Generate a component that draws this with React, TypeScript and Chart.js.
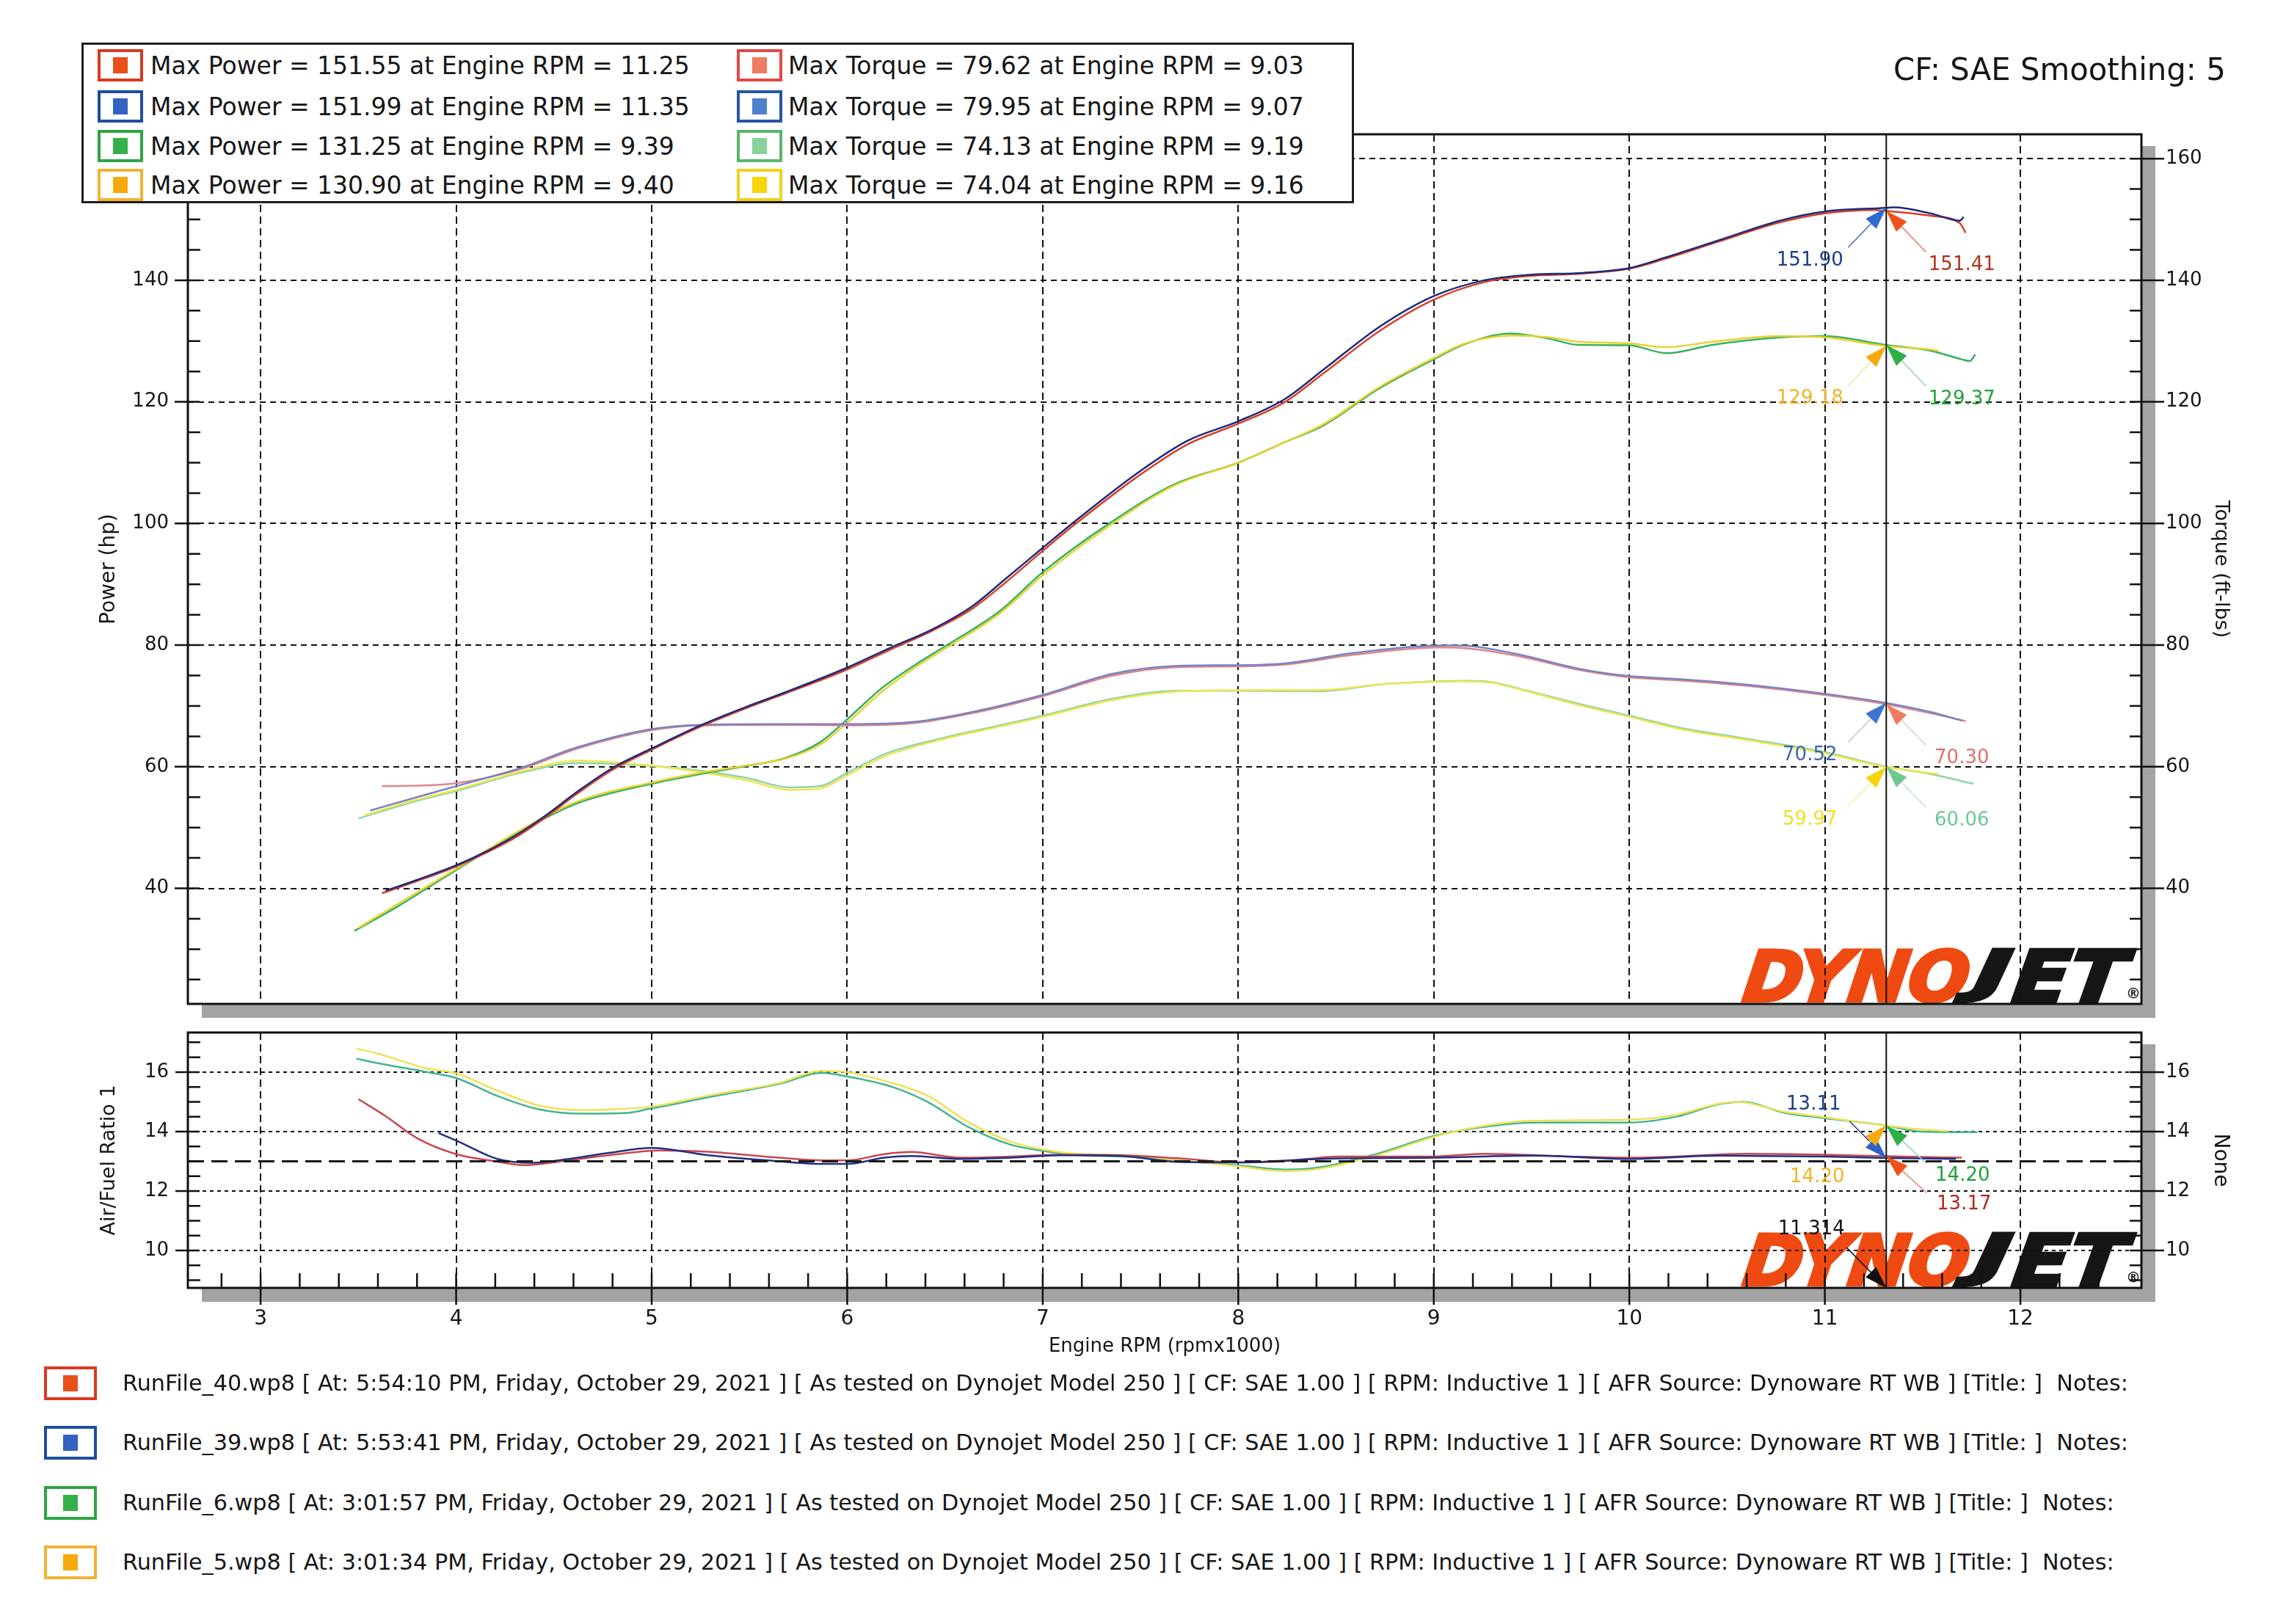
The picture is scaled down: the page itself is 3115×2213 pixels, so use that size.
import { useEffect, useRef } from "react";
import { Chart, registerables } from "chart.js";
Chart.register(...registerables);

// ---------------- data ----------------
const rpmTicks = [3, 4, 5, 6, 7, 8, 9, 10, 11, 12];
const rpmMinorTicks = [2.8, 3.0, 3.2, 3.4, 3.6, 3.8, 4.0, 4.2, 4.4, 4.6, 4.8, 5.0, 5.2, 5.4, 5.6, 5.8, 6.0, 6.2, 6.4, 6.6, 6.8, 7.0, 7.2, 7.4, 7.6, 7.8, 8.0, 8.2, 8.4, 8.6, 8.8, 9.0, 9.2, 9.4, 9.6, 9.8, 10.0, 10.2, 10.4, 10.6, 10.8, 11.0, 11.2, 11.4, 11.6, 11.8, 12.0, 12.2, 12.4];
const powerTicks = [40, 60, 80, 100, 120, 140, 160];
const powerMinorTicks = [25, 30, 35, 45, 50, 55, 65, 70, 75, 85, 90, 95, 105, 110, 115, 125, 130, 135, 145, 150, 155];
const afrTicks = [10, 12, 14, 16];
const afrMinorTicks = [9, 9.5, 10.5, 11, 11.5, 12.5, 13, 13.5, 14.5, 15, 15.5, 16.5, 17];

const RPM_MIN = 2.628;
const RPM_MAX = 12.619;
const POWER_MIN = 21.0;
const POWER_MAX = 164.0;
const AFR_MIN = 8.74;
const AFR_MAX = 17.33;
const CURSOR_RPM = 11.314;
const AFR_TARGET = 13.0;

const rpmPower40 = [3.62, 3.8, 4.0, 4.15, 4.3, 4.45, 4.62, 4.8, 5.0, 5.25, 5.48, 5.68, 6.0, 6.23, 6.43, 6.64, 6.81, 7.0, 7.17, 7.48, 7.74, 8.0, 8.24, 8.44, 8.72, 9.0, 9.26, 9.49, 9.76, 10.0, 10.19, 10.46, 10.77, 11.0, 11.25, 11.31, 11.54, 11.69, 11.72];
const power40 = [39.2, 41.2, 43.6, 45.8, 48.3, 51.5, 55.6, 59.5, 62.8, 66.6, 69.6, 72.0, 76.0, 79.4, 82.3, 86.0, 90.3, 95.5, 100.0, 107.6, 113.0, 116.4, 120.0, 124.8, 131.6, 136.8, 139.7, 140.7, 141.1, 141.9, 143.6, 146.4, 149.5, 151.0, 151.55, 151.41, 150.6, 149.4, 147.8];

const rpmPower39 = [3.64, 3.8, 4.0, 4.15, 4.3, 4.45, 4.62, 4.8, 5.0, 5.25, 5.48, 5.68, 6.0, 6.23, 6.43, 6.64, 6.81, 7.0, 7.17, 7.48, 7.74, 8.0, 8.24, 8.44, 8.72, 9.0, 9.26, 9.49, 9.76, 10.0, 10.19, 10.46, 10.77, 11.0, 11.31, 11.35, 11.54, 11.69, 11.71];
const power39 = [39.6, 41.4, 43.8, 46.0, 48.6, 51.8, 55.9, 59.8, 63.0, 66.8, 69.8, 72.2, 76.3, 79.7, 82.5, 86.4, 90.9, 96.0, 100.5, 108.2, 113.6, 116.8, 120.5, 125.4, 132.3, 137.4, 140.0, 140.9, 141.2, 142.0, 143.8, 146.6, 149.8, 151.3, 151.9, 151.99, 151.0, 149.8, 150.4];

const rpmPower6 = [3.48, 3.7, 4.0, 4.33, 4.62, 5.0, 5.25, 5.48, 5.68, 5.86, 6.0, 6.18, 6.35, 6.5, 6.78, 7.0, 7.34, 7.67, 8.0, 8.24, 8.44, 8.72, 9.0, 9.16, 9.39, 9.59, 9.73, 10.0, 10.19, 10.43, 10.77, 11.0, 11.31, 11.54, 11.7, 11.74, 11.77];
const power6 = [33.0, 37.0, 43.0, 49.4, 54.0, 57.2, 58.8, 60.1, 61.4, 64.0, 67.8, 73.0, 76.8, 79.8, 85.6, 92.0, 100.0, 106.4, 110.0, 113.4, 116.2, 122.2, 127.0, 129.5, 131.25, 130.4, 129.4, 129.3, 128.0, 129.4, 130.6, 130.8, 129.37, 128.4, 127.0, 126.7, 127.8];

const rpmPower5 = [3.5, 3.7, 4.0, 4.33, 4.62, 5.0, 5.25, 5.48, 5.68, 5.86, 6.0, 6.18, 6.35, 6.5, 6.78, 7.0, 7.34, 7.67, 8.0, 8.24, 8.44, 8.72, 9.0, 9.16, 9.4, 9.59, 9.73, 10.0, 10.19, 10.43, 10.77, 11.0, 11.31, 11.54, 11.58];
const power5 = [33.5, 37.4, 43.2, 49.6, 54.3, 57.4, 59.0, 60.2, 61.3, 63.6, 67.2, 72.4, 76.4, 79.4, 85.2, 91.5, 99.6, 106.2, 110.0, 113.4, 116.4, 122.4, 127.2, 129.6, 130.9, 130.6, 129.9, 129.6, 129.0, 129.9, 130.8, 130.6, 129.18, 128.6, 128.4];

const rpmTorque40 = [3.62, 3.8, 4.0, 4.33, 4.62, 5.0, 5.25, 5.62, 6.0, 6.35, 6.64, 7.0, 7.36, 7.7, 8.0, 8.24, 8.59, 9.03, 9.16, 9.43, 9.76, 10.0, 10.26, 10.6, 11.0, 11.31, 11.54, 11.72];
const torque40 = [56.8, 56.9, 57.3, 59.6, 63.0, 66.0, 66.8, 66.9, 66.8, 67.2, 68.8, 71.6, 75.0, 76.4, 76.5, 76.8, 78.4, 79.62, 79.5, 78.2, 75.8, 74.7, 74.2, 73.3, 71.8, 70.3, 68.8, 67.5];

const rpmTorque39 = [3.56, 3.8, 4.0, 4.33, 4.62, 5.0, 5.25, 5.62, 6.0, 6.35, 6.64, 7.0, 7.36, 7.7, 8.0, 8.24, 8.59, 9.07, 9.2, 9.43, 9.76, 10.0, 10.26, 10.6, 11.0, 11.31, 11.54, 11.7];
const torque39 = [52.8, 55.0, 56.8, 59.8, 63.2, 66.2, 66.9, 67.0, 67.0, 67.4, 69.0, 71.8, 75.3, 76.6, 76.7, 77.0, 78.7, 79.95, 79.8, 78.5, 76.0, 74.9, 74.4, 73.5, 72.0, 70.52, 69.0, 67.6];

const rpmTorque6 = [3.5, 3.8, 4.0, 4.33, 4.62, 4.85, 5.19, 5.48, 5.71, 5.86, 6.0, 6.2, 6.5, 6.78, 7.0, 7.36, 7.7, 8.0, 8.41, 8.75, 9.19, 9.3, 9.43, 9.76, 10.0, 10.26, 10.6, 11.0, 11.31, 11.54, 11.76];
const torque6 = [51.5, 54.4, 56.0, 59.0, 60.6, 60.4, 59.6, 58.2, 56.6, 56.8, 59.0, 62.2, 64.8, 66.8, 68.4, 71.2, 72.5, 72.5, 72.4, 73.6, 74.13, 73.9, 72.9, 70.2, 68.4, 66.4, 64.6, 62.4, 60.06, 58.8, 57.2];

const rpmTorque5 = [3.53, 3.8, 4.0, 4.33, 4.62, 4.85, 5.19, 5.48, 5.71, 5.86, 6.0, 6.2, 6.5, 6.78, 7.0, 7.36, 7.7, 8.0, 8.41, 8.75, 9.16, 9.3, 9.43, 9.76, 10.0, 10.26, 10.6, 11.0, 11.31, 11.58];
const torque5 = [52.0, 54.6, 56.2, 59.2, 61.0, 60.6, 59.4, 57.8, 56.2, 56.4, 58.6, 61.8, 64.6, 66.6, 68.2, 71.0, 72.4, 72.6, 72.6, 73.6, 74.04, 73.8, 72.8, 70.0, 68.2, 66.2, 64.4, 62.2, 59.97, 58.8];

const rpmAfr40 = [3.5, 3.63, 3.81, 4.0, 4.21, 4.35, 4.57, 4.78, 5.04, 5.29, 5.65, 5.87, 6.0, 6.19, 6.33, 6.58, 6.84, 7.09, 7.4, 7.69, 8.0, 8.23, 8.52, 9.0, 9.26, 9.69, 10.0, 10.24, 10.6, 11.0, 11.31, 11.7];
const afr40 = [15.09, 14.56, 13.74, 13.24, 12.99, 12.87, 13.03, 13.2, 13.36, 13.32, 13.12, 13.03, 13.03, 13.24, 13.31, 13.12, 13.16, 13.22, 13.2, 13.1, 12.96, 13.0, 13.16, 13.16, 13.25, 13.16, 13.12, 13.16, 13.25, 13.22, 13.17, 13.12];

const rpmAfr39 = [3.91, 4.0, 4.21, 4.39, 4.57, 4.78, 5.0, 5.29, 5.65, 5.87, 6.0, 6.19, 6.33, 6.58, 6.84, 7.09, 7.4, 7.69, 8.0, 8.42, 9.0, 9.51, 10.0, 10.46, 11.0, 11.31, 11.67];
const afr39 = [13.95, 13.7, 13.08, 12.95, 13.07, 13.28, 13.45, 13.2, 13.0, 12.91, 12.91, 13.12, 13.18, 13.08, 13.12, 13.2, 13.18, 12.98, 12.96, 13.08, 13.12, 13.19, 13.08, 13.19, 13.16, 13.11, 13.08];

const rpmAfr6 = [3.49, 3.6, 3.85, 4.0, 4.21, 4.42, 4.64, 4.86, 5.0, 5.29, 5.65, 5.87, 6.0, 6.23, 6.41, 6.62, 6.84, 7.0, 7.2, 7.45, 7.69, 8.0, 8.25, 8.42, 8.71, 9.0, 9.22, 9.51, 10.0, 10.24, 10.46, 10.58, 10.8, 11.0, 11.31, 11.49, 11.78];
const afr6 = [16.45, 16.3, 16.0, 15.8, 15.2, 14.75, 14.6, 14.62, 14.78, 15.15, 15.6, 15.97, 15.85, 15.5, 15.0, 14.15, 13.55, 13.35, 13.2, 13.15, 13.02, 12.86, 12.72, 12.8, 13.25, 13.85, 14.12, 14.3, 14.3, 14.5, 14.92, 15.0, 14.62, 14.45, 14.2, 14.0, 13.98];

const rpmAfr5 = [3.49, 3.6, 3.85, 4.0, 4.21, 4.42, 4.64, 4.86, 5.0, 5.29, 5.65, 5.87, 6.0, 6.23, 6.41, 6.62, 6.84, 7.0, 7.2, 7.45, 7.69, 8.0, 8.23, 8.42, 8.71, 9.0, 9.22, 9.51, 10.0, 10.24, 10.46, 10.55, 10.8, 11.0, 11.31, 11.49, 11.63];
const afr5 = [16.79, 16.62, 16.12, 15.96, 15.38, 14.88, 14.72, 14.76, 14.84, 15.21, 15.63, 16.04, 16.0, 15.63, 15.21, 14.31, 13.65, 13.4, 13.24, 13.2, 13.04, 12.83, 12.67, 12.75, 13.2, 13.82, 14.15, 14.36, 14.4, 14.56, 14.94, 15.0, 14.65, 14.48, 14.2, 14.07, 14.02];

const maxPowerValues = [151.55, 151.99, 131.25, 130.9];
const maxPowerRpm = [11.25, 11.35, 9.39, 9.4];
const maxTorqueValues = [79.62, 79.95, 74.13, 74.04];
const maxTorqueRpm = [9.03, 9.07, 9.19, 9.16];

const powerNoteValues = [151.9, 151.41, 129.18, 129.37];
const torqueNoteValues = [70.52, 70.3, 59.97, 60.06];
const afrNoteValues = [13.11, 14.2, 14.2, 13.17];

const runFiles = ["RunFile_40.wp8", "RunFile_39.wp8", "RunFile_6.wp8", "RunFile_5.wp8"];
const runTimes = ["5:54:10 PM", "5:53:41 PM", "3:01:57 PM", "3:01:34 PM"];

// ---------------- styles ----------------
const FONT = "'DejaVu Sans', Verdana, sans-serif";
const runBorder = ["#D83A22", "#1F4E9E", "#2EA443", "#F2B233"];
const runFill = ["#E8501A", "#3362C0", "#34B04A", "#F5A90A"];
const torqueBorder = ["#E04A44", "#2456A8", "#58B76A", "#F2D21A"];
const torqueFill = ["#F07A62", "#4F80D0", "#86D29A", "#F8D60C"];

const pts = (xs: number[], ys: number[]) => xs.map((x, i) => ({ x, y: ys[i] }));

type Note = {
  axis: string;
  value: number;
  text: string;
  color: string;
  head: string;
  stem: string;
  geom: number[]; // stemX, stemY, labelX, labelY
};

const GEOM_MAIN_LEFT = [-52, 54, -104, 72];
const GEOM_MAIN_RIGHT = [54, 56, 103, 74];

// draws a word so that its full ink box (ascent + descent) fits h, bottom-aligned
function drawWord(ctx: CanvasRenderingContext2D, word: string, left: number, bottom: number, w: number, h: number, color: string) {
  ctx.save();
  ctx.font = `italic bold 100px ${FONT}`;
  const m = ctx.measureText(word);
  const asc = m.actualBoundingBoxAscent || 73;
  const desc = Math.max(0, m.actualBoundingBoxDescent || 0);
  const sy = h / (asc + desc);
  const sx = w / (m.width + 12);
  ctx.translate(left, bottom - desc * sy);
  ctx.transform(sx, 0, -0.13 * sy, sy, 0, 0);
  ctx.textAlign = "left";
  ctx.textBaseline = "alphabetic";
  ctx.fillStyle = color;
  ctx.strokeStyle = color;
  ctx.lineWidth = 5;
  ctx.lineJoin = "miter";
  ctx.fillText(word, 0, 0);
  ctx.strokeText(word, 0, 0);
  ctx.restore();
}

function drawLogo(ctx: CanvasRenderingContext2D, a: any) {
  const h = 72;
  const bottom = a.bottom - 3;
  ctx.save();
  ctx.beginPath();
  ctx.rect(a.left, a.top, a.right - a.left, a.bottom - a.top - 1);
  ctx.clip();
  drawWord(ctx, "DYNO", a.right - 545, bottom, 318, h, "#EE4A12");
  drawWord(ctx, "J", a.right - 230, bottom, 66, h, "#161616");
  drawWord(ctx, "ET", a.right - 178, bottom, 166, h, "#161616");
  ctx.restore();
  ctx.save();
  ctx.font = `bold 20px ${FONT}`;
  ctx.fillStyle = "#222";
  ctx.textAlign = "center";
  ctx.textBaseline = "middle";
  ctx.fillText("®", a.right - 11, a.bottom - 13);
  ctx.restore();
}

function makePlugin(cfg: {
  yLeft: string;
  yRight: string;
  leftMajor: number[];
  leftMinor: number[];
  rightMajor: number[];
  rightMinor: number[];
  leftOut: number;
  bottomTicks: boolean;
  target: boolean;
  notes: Note[];
  bottomNote?: Note;
}) {
  return {
    id: "dynoFrame",
    beforeDraw(chart: any) {
      const { ctx, chartArea: a } = chart;
      ctx.save();
      ctx.fillStyle = "#ffffff";
      ctx.fillRect(a.left, a.top, a.right - a.left, a.bottom - a.top);
      ctx.fillStyle = "#a3a3a3";
      ctx.fillRect(a.right + 1, a.top + 16, 18, a.bottom - a.top + 2);
      ctx.fillRect(a.left + 19, a.bottom + 1, a.right - a.left, 18);
      ctx.restore();
      drawLogo(ctx, a);
    },
    afterDatasetsDraw(chart: any) {
      const { ctx, chartArea: a, scales } = chart;
      const xs = scales.x;
      const yl = scales[cfg.yLeft];
      const yr = scales[cfg.yRight];
      ctx.save();
      if (cfg.target) {
        const ty = yl.getPixelForValue(AFR_TARGET);
        ctx.strokeStyle = "#1a1a1a";
        ctx.lineWidth = 3;
        ctx.setLineDash([22, 10]);
        ctx.beginPath();
        ctx.moveTo(a.left, ty);
        ctx.lineTo(a.right, ty);
        ctx.stroke();
        ctx.setLineDash([]);
      }
      const cx = xs.getPixelForValue(CURSOR_RPM);
      ctx.strokeStyle = "#111";
      ctx.lineWidth = 2;
      ctx.beginPath();
      ctx.moveTo(cx, a.top);
      ctx.lineTo(cx, a.bottom);
      ctx.stroke();
      ctx.lineWidth = 3;
      ctx.strokeStyle = "#111";
      ctx.strokeRect(a.left, a.top, a.right - a.left, a.bottom - a.top);
      ctx.lineWidth = 2.5;
      ctx.beginPath();
      cfg.leftMajor.forEach((v) => {
        const y = yl.getPixelForValue(v);
        ctx.moveTo(a.left - cfg.leftOut, y);
        ctx.lineTo(a.left + 16, y);
      });
      cfg.leftMinor.forEach((v) => {
        const y = yl.getPixelForValue(v);
        ctx.moveTo(a.left, y);
        ctx.lineTo(a.left + 17, y);
      });
      cfg.rightMajor.forEach((v) => {
        const y = yr.getPixelForValue(v);
        ctx.moveTo(a.right - 16, y);
        ctx.lineTo(a.right + 31, y);
      });
      cfg.rightMinor.forEach((v) => {
        const y = yr.getPixelForValue(v);
        ctx.moveTo(a.right - 16, y);
        ctx.lineTo(a.right, y);
      });
      if (cfg.bottomTicks) {
        rpmMinorTicks.forEach((v) => {
          const x = xs.getPixelForValue(v);
          ctx.moveTo(x, a.bottom - 20);
          ctx.lineTo(x, a.bottom);
        });
        rpmTicks.forEach((v) => {
          const x = xs.getPixelForValue(v);
          ctx.moveTo(x, a.bottom - 20);
          ctx.lineTo(x, a.bottom + 23);
        });
      }
      ctx.stroke();
      const all = cfg.bottomNote ? [...cfg.notes, cfg.bottomNote] : cfg.notes;
      all.forEach((n) => {
        const ty = n.axis === "bottom" ? a.bottom : scales[n.axis].getPixelForValue(n.value);
        const [sx, sy, lx, ly] = n.geom;
        const len = Math.hypot(sx, sy);
        const ux = sx / len;
        const uy = sy / len;
        const hl = 30;
        const hw = 10;
        ctx.strokeStyle = n.stem;
        ctx.lineWidth = 1.6;
        ctx.beginPath();
        ctx.moveTo(cx + ux * hl, ty + uy * hl);
        ctx.lineTo(cx + sx, ty + sy);
        ctx.stroke();
        const bx = cx + ux * hl;
        const by = ty + uy * hl;
        ctx.fillStyle = n.head;
        ctx.beginPath();
        ctx.moveTo(cx, ty);
        ctx.lineTo(bx - uy * hw, by + ux * hw);
        ctx.lineTo(bx + uy * hw, by - ux * hw);
        ctx.closePath();
        ctx.fill();
        ctx.font = `26px ${FONT}`;
        ctx.fillStyle = n.color;
        ctx.textAlign = "center";
        ctx.textBaseline = "middle";
        ctx.fillText(n.text, cx + lx, ty + ly);
      });
      ctx.restore();
    },
  };
}

const tickFont = { family: FONT, size: 26 };

function yAxis(position: "left" | "right", min: number, max: number, ticks: number[], dash: number[], title: string, titleSize: number, titlePad: number, width: number, grid: boolean) {
  return {
    type: "linear" as const,
    position,
    min,
    max,
    afterBuildTicks: (s: any) => {
      s.ticks = ticks.map((v) => ({ value: v }));
    },
    afterFit: (s: any) => {
      s.width = width;
      s.paddingTop = 0;
      s.paddingBottom = 0;
    },
    ticks: {
      font: tickFont,
      color: "#161616",
      padding: position === "left" ? 26 : 33,
      callback: (v: any) => String(v),
    },
    grid: {
      display: true,
      drawOnChartArea: grid,
      drawTicks: false,
      color: "#111",
      lineWidth: 2,
    },
    border: { display: false, dash },
    title: {
      display: true,
      text: title,
      color: "#161616",
      font: { family: FONT, size: titleSize },
      padding: { top: titlePad, bottom: 0 },
    },
  };
}

function mainConfig(): any {
  const ds = (label: string, xs: number[], ys: number[], color: string, axis: string, w = 2.5) => ({
    label,
    data: pts(xs, ys),
    borderColor: color,
    backgroundColor: color,
    borderWidth: w,
    yAxisID: axis,
    pointRadius: 0,
    cubicInterpolationMode: "monotone",
    fill: false,
  });
  const notes: Note[] = [
    { axis: "yP", value: powerNoteValues[0], text: powerNoteValues[0].toFixed(2), color: "#1E3C8C", head: "#2E6CD0", stem: "#5577AA", geom: GEOM_MAIN_LEFT },
    { axis: "yP", value: powerNoteValues[1], text: powerNoteValues[1].toFixed(2), color: "#B8301C", head: "#F0521E", stem: "#E08878", geom: GEOM_MAIN_RIGHT },
    { axis: "yP", value: powerNoteValues[2], text: powerNoteValues[2].toFixed(2), color: "#F0B428", head: "#F5AA10", stem: "#F7E9A0", geom: GEOM_MAIN_LEFT },
    { axis: "yP", value: powerNoteValues[3], text: powerNoteValues[3].toFixed(2), color: "#22A03C", head: "#2EB046", stem: "#9DCFB0", geom: GEOM_MAIN_RIGHT },
    { axis: "yT", value: torqueNoteValues[0], text: torqueNoteValues[0].toFixed(2), color: "#3A66B4", head: "#3C74D4", stem: "#C0CCE0", geom: GEOM_MAIN_LEFT },
    { axis: "yT", value: torqueNoteValues[1], text: torqueNoteValues[1].toFixed(2), color: "#E07070", head: "#F07C62", stem: "#F0C8C0", geom: GEOM_MAIN_RIGHT },
    { axis: "yT", value: torqueNoteValues[2], text: torqueNoteValues[2].toFixed(2), color: "#EEE02A", head: "#F8D20C", stem: "#F6F0A0", geom: GEOM_MAIN_LEFT },
    { axis: "yT", value: torqueNoteValues[3], text: torqueNoteValues[3].toFixed(2), color: "#6CC898", head: "#70C890", stem: "#C8E8D4", geom: GEOM_MAIN_RIGHT },
  ];
  return {
    type: "line",
    data: {
      datasets: [
        ds("Power 39", rpmPower39, power39, "#1C2A7A", "yP"),
        ds("Power 40", rpmPower40, power40, "#D8402A", "yP"),
        ds("Torque 39", rpmTorque39, torque39, "#7A82C4", "yT"),
        ds("Torque 40", rpmTorque40, torque40, "#E0868A", "yT"),
        ds("Power 5", rpmPower5, power5, "#E8D230", "yP"),
        ds("Power 6", rpmPower6, power6, "#38B060", "yP"),
        ds("Torque 5", rpmTorque5, torque5, "#EEE650", "yT"),
        ds("Torque 6", rpmTorque6, torque6, "#8ED4A8", "yT"),
      ],
    },
    options: {
      responsive: false,
      animation: false,
      devicePixelRatio: 1,
      layout: { padding: { top: 183, left: 0, right: 0, bottom: 0 } },
      plugins: { legend: { display: false }, tooltip: { enabled: false } },
      scales: {
        x: {
          type: "linear",
          min: RPM_MIN,
          max: RPM_MAX,
          afterBuildTicks: (s: any) => {
            s.ticks = rpmTicks.map((v) => ({ value: v }));
          },
          afterFit: (s: any) => {
            s.height = 72;
          },
          ticks: { display: false },
          grid: { color: "#111", lineWidth: 2, drawTicks: false },
          border: { display: false, dash: [10, 6] },
        },
        yP: yAxis("left", POWER_MIN, POWER_MAX, powerTicks, [8, 6], "Power (hp)", 28, 132, 256, true),
        yT: yAxis("right", POWER_MIN, POWER_MAX, powerTicks, [8, 6], "Torque (ft-lbs)", 27, 73, 197, false),
      },
    },
    plugins: [
      makePlugin({
        yLeft: "yP",
        yRight: "yT",
        leftMajor: powerTicks,
        leftMinor: powerMinorTicks,
        rightMajor: powerTicks,
        rightMinor: powerMinorTicks,
        leftOut: 18,
        bottomTicks: false,
        target: false,
        notes,
      }),
    ],
  };
}

function afrConfig(): any {
  const ds = (label: string, xs: number[], ys: number[], color: string, w = 2.5) => ({
    label,
    data: pts(xs, ys),
    borderColor: color,
    backgroundColor: color,
    borderWidth: w,
    yAxisID: "yA",
    pointRadius: 0,
    cubicInterpolationMode: "monotone",
    fill: false,
  });
  const notes: Note[] = [
    { axis: "yA", value: afrNoteValues[0], text: afrNoteValues[0].toFixed(2), color: "#1E3C8C", head: "#2E62C8", stem: "#2A3F90", geom: [-50, -50, -99, -73] },
    { axis: "yA", value: afrNoteValues[1], text: afrNoteValues[1].toFixed(2), color: "#F0B428", head: "#F5AA10", stem: "#F7E9A0", geom: [-36, 36, -94, 70] },
    { axis: "yA", value: afrNoteValues[2], text: afrNoteValues[2].toFixed(2), color: "#22A03C", head: "#2EB046", stem: "#9DCFD0", geom: [55, 52, 104, 68] },
    { axis: "yA", value: afrNoteValues[3], text: afrNoteValues[3].toFixed(2), color: "#B02A22", head: "#F0521E", stem: "#E08878", geom: [55, 50, 106, 66] },
  ];
  const bottomNote: Note = { axis: "bottom", value: CURSOR_RPM, text: CURSOR_RPM.toFixed(3), color: "#111", head: "#111", stem: "#111", geom: [-54, -55, -102, -80] };
  return {
    type: "line",
    data: {
      datasets: [
        ds("AFR 39", rpmAfr39, afr39, "#22307E"),
        ds("AFR 40", rpmAfr40, afr40, "#C84650"),
        ds("AFR 5", rpmAfr5, afr5, "#EEE25A"),
        ds("AFR 6", rpmAfr6, afr6, "#44B48C"),
      ],
    },
    options: {
      responsive: false,
      animation: false,
      devicePixelRatio: 1,
      layout: { padding: { top: 37, left: 0, right: 0, bottom: 0 } },
      plugins: { legend: { display: false }, tooltip: { enabled: false } },
      scales: {
        x: {
          type: "linear",
          min: RPM_MIN,
          max: RPM_MAX,
          afterBuildTicks: (s: any) => {
            s.ticks = rpmTicks.map((v) => ({ value: v }));
          },
          afterFit: (s: any) => {
            s.height = 115;
          },
          ticks: { font: { family: FONT, size: 28 }, color: "#161616", padding: 26, maxRotation: 0, callback: (v: any) => String(v) },
          grid: { color: "#111", lineWidth: 2, drawTicks: false },
          border: { display: false, dash: [10, 6] },
          title: {
            display: true,
            text: "Engine RPM (rpmx1000)",
            color: "#161616",
            font: { family: FONT, size: 26 },
            padding: { top: 0, bottom: 19 },
          },
        },
        yA: yAxis("left", AFR_MIN, AFR_MAX, afrTicks, [5, 5], "Air/Fuel Ratio 1", 27, 133, 256, true),
        yN: yAxis("right", AFR_MIN, AFR_MAX, afrTicks, [5, 5], "None", 28, 73, 197, false),
      },
    },
    plugins: [
      makePlugin({
        yLeft: "yA",
        yRight: "yN",
        leftMajor: afrTicks,
        leftMinor: afrMinorTicks,
        rightMajor: afrTicks,
        rightMinor: afrMinorTicks,
        leftOut: 17,
        bottomTicks: true,
        target: true,
        notes,
        bottomNote,
      }),
    ],
  };
}

function Swatch(props: { left: number; top: number; w: number; h: number; border: string; fill: string }) {
  const { left, top, w, h, border, fill } = props;
  return (
    <div
      style={{
        position: "absolute",
        left,
        top,
        width: w,
        height: h,
        boxSizing: "border-box",
        border: `4px solid ${border}`,
        background: "#fff",
      }}
    >
      <div
        style={{
          position: "absolute",
          left: "50%",
          top: "50%",
          width: 20,
          height: 22,
          marginLeft: -10,
          marginTop: -11,
          background: fill,
        }}
      />
    </div>
  );
}

function TextAt(props: { left: number; cy: number; size: number; children: any; color?: string }) {
  return (
    <div
      style={{
        position: "absolute",
        left: props.left,
        top: props.cy,
        transform: "translateY(-50%)",
        fontSize: props.size,
        lineHeight: 1,
        whiteSpace: "pre",
        color: props.color || "#161616",
        fontFamily: FONT,
      }}
    >
      {props.children}
    </div>
  );
}

export default function App() {
  const mainRef = useRef<HTMLCanvasElement>(null);
  const afrRef = useRef<HTMLCanvasElement>(null);

  useEffect(() => {
    const c1 = new Chart(mainRef.current as HTMLCanvasElement, mainConfig());
    const c2 = new Chart(afrRef.current as HTMLCanvasElement, afrConfig());
    return () => {
      c1.destroy();
      c2.destroy();
    };
  }, []);

  const legendRows = [89, 145, 199, 252];
  const footerRows = [1885, 1966, 2048, 2129];

  return (
    <div
      style={{
        position: "absolute",
        left: 0,
        top: 0,
        width: 3115,
        height: 2213,
        background: "#fff",
        overflow: "hidden",
        fontFamily: FONT,
      }}
    >
      <canvas ref={mainRef} width={3115} height={1440} style={{ position: "absolute", left: 0, top: 0, width: 3115, height: 1440 }} />
      <canvas ref={afrRef} width={3115} height={500} style={{ position: "absolute", left: 0, top: 1370, width: 3115, height: 500 }} />

      <div
        style={{
          position: "absolute",
          left: 111,
          top: 58,
          width: 1734,
          height: 219,
          boxSizing: "border-box",
          border: "3px solid #1e1e1e",
          background: "#fff",
        }}
      />
      {legendRows.map((cy, i) => (
        <div key={"lp" + i}>
          <Swatch left={133} top={cy - 22} w={62} h={44} border={runBorder[i]} fill={runFill[i]} />
          <TextAt left={205} cy={cy} size={33}>
            {`Max Power = ${maxPowerValues[i].toFixed(2)} at Engine RPM = ${maxPowerRpm[i].toFixed(2)}`}
          </TextAt>
          <Swatch left={1004} top={cy - 22} w={62} h={44} border={torqueBorder[i]} fill={torqueFill[i]} />
          <TextAt left={1074} cy={cy} size={33}>
            {`Max Torque = ${maxTorqueValues[i].toFixed(2)} at Engine RPM = ${maxTorqueRpm[i].toFixed(2)}`}
          </TextAt>
        </div>
      ))}

      <TextAt left={2580} cy={95} size={41.8}>
        {"CF: SAE Smoothing: 5"}
      </TextAt>

      {footerRows.map((cy, i) => (
        <div key={"f" + i}>
          <Swatch left={60} top={cy - 23} w={72} h={46} border={runBorder[i]} fill={runFill[i]} />
          <TextAt left={167} cy={cy} size={30.25}>
            {`${runFiles[i]} [ At: ${runTimes[i]}, Friday, October 29, 2021 ] [ As tested on Dynojet Model 250 ] [ CF: SAE 1.00 ] [ RPM: Inductive 1 ] [ AFR Source: Dynoware RT WB ] [Title: ]  Notes:`}
          </TextAt>
        </div>
      ))}
    </div>
  );
}
